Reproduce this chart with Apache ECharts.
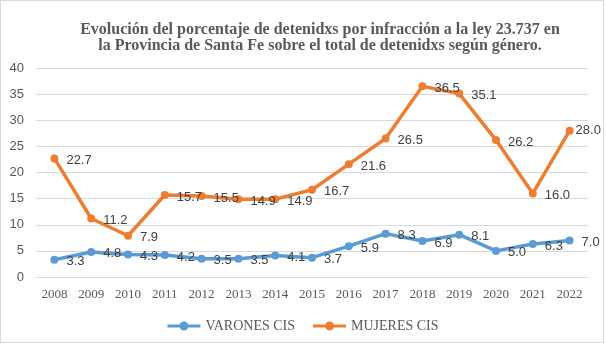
<!DOCTYPE html>
<html>
<head>
<meta charset="utf-8">
<script src="https://cdn.jsdelivr.net/npm/echarts@6/dist/echarts.min.js"></script>
<style>
  html, body { margin: 0; padding: 0; background: #fff; }
  #chart { position: absolute; left: 0; top: 0; width: 606px; height: 345px; }
  #frame { position: absolute; left: 0; top: 0; width: 602px; height: 341px; border: 1px solid #d9d9d9; pointer-events: none; }
</style>
</head>
<body>
<div id="chart"></div>
<div id="frame"></div>
<script>
// Años de la serie
const years = ['2008','2009','2010','2011','2012','2013','2014','2015','2016','2017','2018','2019','2020','2021','2022'];
// Porcentaje de detenidxs por infracción a la ley 23.737, por género
const varonesCis = [3.3, 4.8, 4.3, 4.2, 3.5, 3.5, 4.1, 3.7, 5.9, 8.3, 6.9, 8.1, 5.0, 6.3, 7.0];
const mujeresCis = [22.7, 11.2, 7.9, 15.7, 15.5, 14.9, 14.9, 16.7, 21.6, 26.5, 36.5, 35.1, 26.2, 16.0, 28.0];
const seriesNames = ['VARONES CIS', 'MUJERES CIS'];
const yTicks = { min: 0, max: 40, interval: 5 };

const serif = '"Liberation Serif", "Times New Roman", serif';
const sans = '"Liberation Sans", Arial, sans-serif';

// Legend key: a thick line segment with a dot in the middle (both wound clockwise)
const legendIcon = 'path://M0,3h33v3h-33z M12,4.5a4.5,4.5 0 1,1 9,0a4.5,4.5 0 1,1 -9,0z';

// The last label of a series sits tighter to its point so it stays inside the frame
function withLabels(data, tightLast) {
  return data.map((v, i) => {
    if (tightLast && i === data.length - 1) {
      return { value: v, label: { distance: 2, offset: [0, 0] } };
    }
    return v;
  });
}

function lineSeries(name, data, color, tightLast) {
  return {
    name: name,
    type: 'line',
    data: withLabels(data, tightLast),
    symbol: 'circle',
    symbolSize: 8,
    lineStyle: { width: 3.5, color: color },
    itemStyle: { color: color },
    label: {
      show: true,
      position: 'right',
      distance: 8,
      offset: [0, 2],
      color: '#404040',
      fontFamily: sans,
      fontSize: 13,
      formatter: p => Number(p.value).toFixed(1)
    },
    animation: false
  };
}

const chart = echarts.init(document.getElementById('chart'), null, { renderer: 'canvas' });
chart.setOption({
  backgroundColor: '#fff',
  title: {
    text: 'Evolución del porcentaje de detenidxs por infracción a la ley 23.737 en\nla Provincia de Santa Fe sobre el total de detenidxs según género.',
    left: 315,
    textAlign: 'center',
    top: 17,
    textStyle: {
      fontFamily: serif,
      fontWeight: 'bold',
      fontSize: 16,
      lineHeight: 16,
      color: '#595959'
    }
  },
  grid: { left: 36, right: 18, top: 68, bottom: 68, containLabel: false },
  xAxis: {
    type: 'category',
    data: years,
    boundaryGap: true,
    axisLine: { show: true, lineStyle: { color: '#d9d9d9', width: 1 } },
    axisTick: { show: false },
    axisLabel: { fontFamily: serif, fontSize: 13, color: '#595959', margin: 11, interval: 0 }
  },
  yAxis: {
    type: 'value',
    min: yTicks.min,
    max: yTicks.max,
    interval: yTicks.interval,
    axisLine: { show: false },
    axisTick: { show: false },
    splitLine: { lineStyle: { color: '#d9d9d9', width: 1 } },
    axisLabel: { fontFamily: sans, fontSize: 13, color: '#595959', margin: 12 }
  },
  legend: {
    top: 314,
    left: 'center',
    itemWidth: 33,
    itemHeight: 9,
    itemGap: 18,
    icon: legendIcon,
    data: seriesNames,
    textStyle: { fontFamily: serif, fontSize: 14, color: '#595959' }
  },
  series: [
    lineSeries(seriesNames[0], varonesCis, '#5B9BD5', false),
    lineSeries(seriesNames[1], mujeresCis, '#ED7D31', true)
  ]
});
</script>
</body>
</html>
